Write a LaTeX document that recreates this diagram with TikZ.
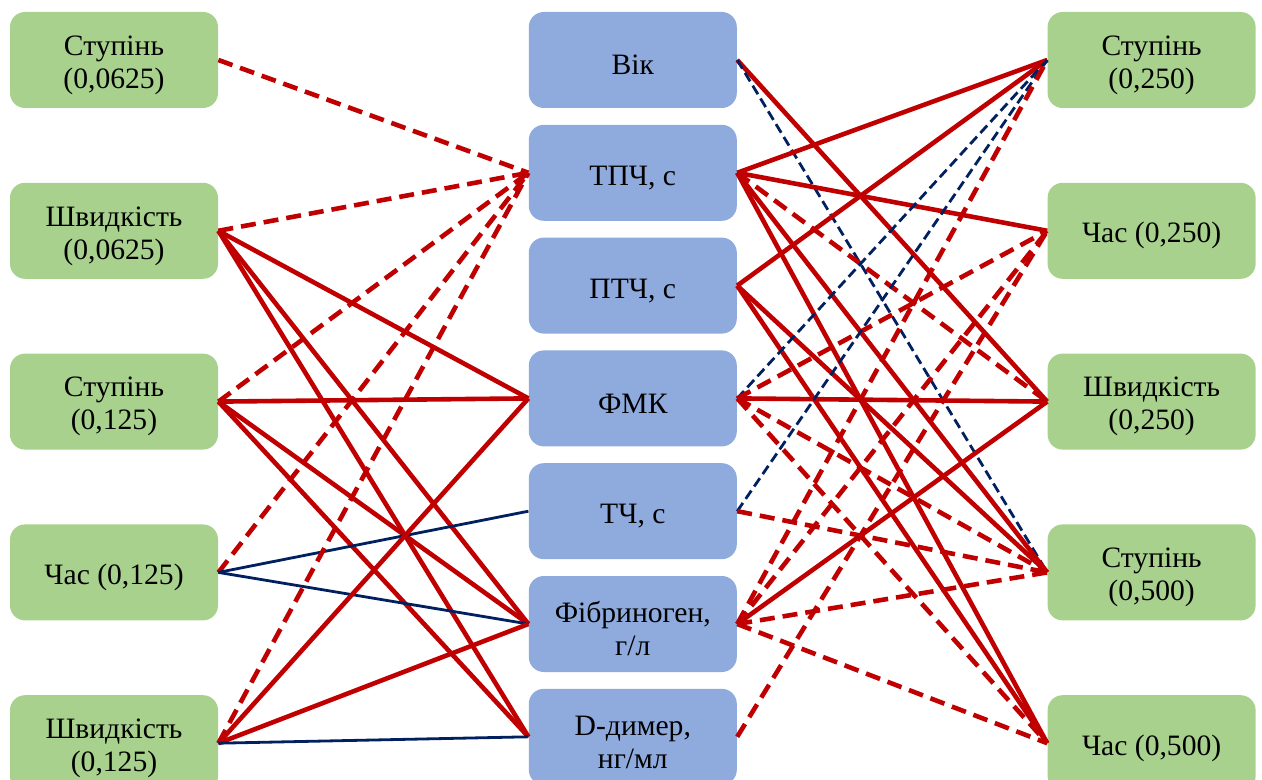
\documentclass[tikz,border=0pt]{standalone}
\usepackage{fontspec}
\setmainfont{Liberation Serif}
\usetikzlibrary{positioning}

\definecolor{boxgreen}{HTML}{A9D18E}
\definecolor{boxblue}{HTML}{8FAADC}
\definecolor{linkred}{HTML}{C00000}
\definecolor{linkblue}{HTML}{002060}

\begin{document}
\begin{tikzpicture}[
  x=0.5pt, y=-0.5pt,
  node distance=37pt and 155pt,
  grp/.style={rounded corners=7.5pt,fill=boxgreen,minimum width=104pt,minimum height=48pt,
    align=center,inner sep=2pt,font=\fontsize{14.8pt}{16.5pt}\selectfont,
    execute at begin node={\rule{0pt}{15pt}}},
  ind/.style={grp,fill=boxblue},
  two/.style={execute at begin node={\rule{0pt}{31.5pt}}},
  rs/.style={draw=linkred,line width=2.3pt},
  rd/.style={draw=linkred,line width=2.3pt,dash pattern=on 7.5pt off 4pt},
  bs/.style={draw=linkblue,line width=1.4pt},
  bd/.style={draw=linkblue,line width=1.4pt,dash pattern=on 5pt off 2.5pt}
]
\useasboundingbox (0,0) rectangle (1262,780);

% left column
\node[grp,two] (l1) at (114,60) {Ступінь\\(0,0625)};
\node[grp,two,below=of l1] (l2) {Швидкість\\(0,0625)};
\node[grp,two,below=of l2] (l3) {Ступінь\\(0,125)};
\node[grp,below=of l3] (l4) {Час (0,125)};
\node[grp,two,below=of l4] (l5) {Швидкість\\(0,125)};

% middle column
\node[ind,right=of l1] (m1) {Вік};
\node[ind,below=8pt of m1] (m2) {ТПЧ, с};
\node[ind,below=8pt of m2] (m3) {ПТЧ, с};
\node[ind,below=8pt of m3] (m4) {ФМК};
\node[ind,below=8pt of m4] (m5) {ТЧ, с};
\node[ind,two,below=8pt of m5] (m6) {Фібриноген,\\г/л};
\node[ind,two,below=8pt of m6] (m7) {D-димер,\\нг/мл};

% right column
\node[grp,two,right=of m1] (r1) {Ступінь\\(0,250)};
\node[grp,below=of r1] (r2) {Час (0,250)};
\node[grp,two,below=of r2] (r3) {Швидкість\\(0,250)};
\node[grp,two,below=of r3] (r4) {Ступінь\\(0,500)};
\node[grp,below=of r4] (r5) {Час (0,500)};

\path
% left links
(l1.east) edge[rd] (m2.west)
(l2.east) edge[rd] (m2.west)
(l2.east) edge[rs] (m4.west)
(l2.east) edge[rs] (m6.west)
(l2.east) edge[rs] (m7.west)
(l3.east) edge[rd] (m2.west)
(l3.east) edge[rs] (m4.west)
(l3.east) edge[rs] (m6.west)
(l3.east) edge[rs] (m7.west)
(l4.east) edge[rd] (m2.west)
(l4.east) edge[bs] (m5.west)
(l4.east) edge[bs] (m6.west)
(l5.east) edge[rd] (m2.west)
(l5.east) edge[rs] (m4.west)
(l5.east) edge[rs] (m6.west)
(l5.east) edge[bs] (m7.west)

% right links
(m1.east) edge[rs] (r3.west)
(m1.east) edge[bd] (r4.west)
(m2.east) edge[rs] (r1.west)
(m2.east) edge[rs] (r2.west)
(m2.east) edge[rd] (r3.west)
(m2.east) edge[rs] (r4.west)
(m2.east) edge[rs] (r5.west)
(m3.east) edge[rs] (r1.west)
(m3.east) edge[rs] (r4.west)
(m3.east) edge[rs] (r5.west)
(m4.east) edge[bd] (r1.west)
(m4.east) edge[rd] (r2.west)
(m4.east) edge[rs] (r3.west)
(m4.east) edge[rd] (r4.west)
(m4.east) edge[rd] (r5.west)
(m5.east) edge[bd] (r1.west)
(m5.east) edge[rd] (r4.west)
(m6.east) edge[rd] (r1.west)
(m6.east) edge[rd] (r2.west)
(m6.east) edge[rs] (r3.west)
(m6.east) edge[rd] (r4.west)
(m6.east) edge[rd] (r5.west)
(m7.east) edge[rd] (r2.west)
;

\end{tikzpicture}
\end{document}
